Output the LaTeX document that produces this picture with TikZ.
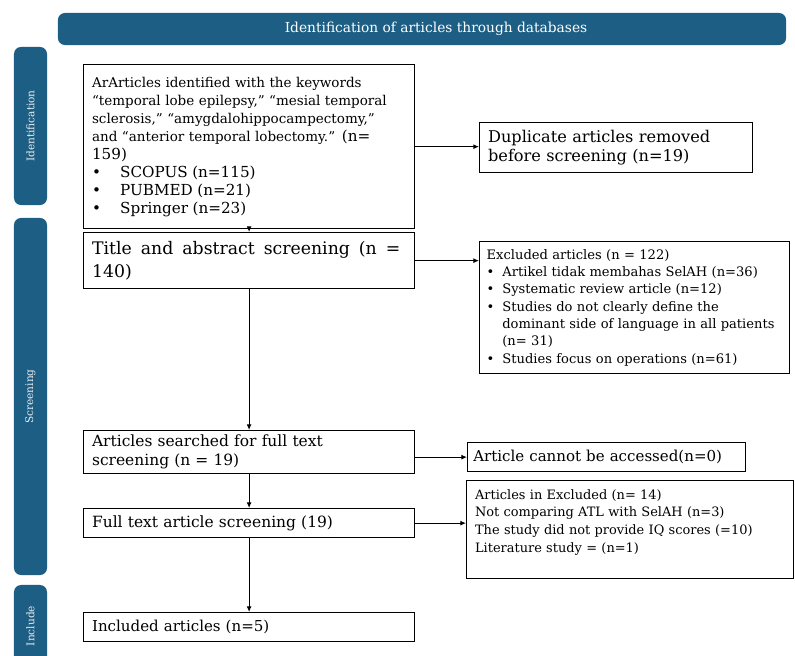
\documentclass[tikz,border=0pt]{standalone}
\usepackage{fontspec}
\setmainfont{DejaVu Serif}
\usetikzlibrary{arrows.meta}

\definecolor{bandblue}{HTML}{1D5E84}
\newcommand{\bul}{\makebox[1.2em][l]{\textbullet}}

\tikzset{
    band/.style={fill=bandblue, rounded corners=5pt, text=white, font=\fontsize{9.8}{12}\selectfont},
    sidebar/.style={fill=bandblue, rounded corners=5pt, rotate=90, minimum height=0.825cm,
        text=white!85!gray, font=\fontsize{7.5}{9}\selectfont},
    stagebox/.style={draw, line width=0.9pt, anchor=north west, align=left, inner xsep=6pt, inner ysep=3pt},
    arr/.style={line width=0.7pt, -{Latex[length=4pt, width=3.5pt]}}
}

\begin{document}
\begin{tikzpicture}[x=0.025cm, y=-0.025cm]
            \useasboundingbox (0, 0) rectangle (795, 656);
            % bands
            \node[band, minimum width=18.2cm, minimum height=0.8cm] (dbband) at (422, 29) {\hspace*{0.7cm}Identification of articles through databases};
            \node[sidebar, minimum width=3.95cm] (idband) at (30.5, 126) {Identification};
            \node[sidebar, minimum width=8.925cm] (scrband) at (30.5, 396.5) {Screening};
            \node[sidebar, minimum width=2.05cm] (incband) at (30.5, 626) {Include};
            % left column
            \node[stagebox, text width=7.85cm, minimum height=4.1cm, font=\fontsize{9.6}{12.8}\selectfont] (ident) at (83, 64) {ArArticles identified with the keywords\\
                “temporal lobe epilepsy,” “mesial temporal\\
                sclerosis,” “amygdalohippocampectomy,”\\
                and “anterior temporal lobectomy.” {\fontsize{10.8}{12.8}\selectfont(n=}\\
                {\fontsize{10.8}{12.8}\selectfont 159)}\\
                {\fontsize{10.8}{12.8}\selectfont\makebox[1.85em][l]{\textbullet}SCOPUS (n=115)}\\
                {\fontsize{10.8}{12.8}\selectfont\makebox[1.85em][l]{\textbullet}PUBMED (n=21)}\\
                {\fontsize{10.8}{12.8}\selectfont\makebox[1.85em][l]{\textbullet}Springer (n=23)}};
            \node[stagebox, text width=7.85cm, minimum height=1.4cm, font=\fontsize{12.3}{16}\selectfont] (title) at (83, 232) {{\spaceskip=0.52em\relax Title and abstract screening (n =}\\ 140)};
            \node[stagebox, text width=7.85cm, minimum height=0.975cm, font=\fontsize{11}{13.5}\selectfont] (search) at (83, 430) {Articles searched for full text\\ screening (n = 19)};
            \node[stagebox, text width=7.85cm, minimum height=0.725cm, font=\fontsize{11}{13}\selectfont] (full) at (83, 508) {Full text article screening (19)};
            \node[stagebox, text width=7.85cm, minimum height=0.725cm, font=\fontsize{10.7}{13}\selectfont] (incl) at (83, 612) {Included articles (n=5)};
            % right column
            \node[stagebox, text width=6.4cm, minimum height=1.25cm, font=\fontsize{11.5}{14}\selectfont] (dup) at (479, 122) {Duplicate articles removed\\ before screening (n=19)};
            \node[stagebox, text width=7.4cm, minimum height=3.3cm, inner xsep=5pt, font=\fontsize{9.3}{12.3}\selectfont] (excla) at (479, 241) {Excluded articles (n = 122)\\
                \bul Artikel tidak membahas SelAH (n=36)\\
                \bul Systematic review article (n=12)\\
                \bul Studies do not clearly define the\\
                \hspace*{1.2em}dominant side of language in all patients\\
                \hspace*{1.2em}(n= 31)\\
                \bul Studies focus on operations (n=61)};
            \node[stagebox, text width=6.66cm, inner xsep=4pt, minimum height=0.725cm, font=\fontsize{10.7}{13}\selectfont] (cannot) at (467, 442) {Article cannot be accessed(n=0)};
            \node[stagebox, text width=7.75cm, minimum height=2.45cm, font=\fontsize{9.2}{12.6}\selectfont] (exclb) at (466, 480) {Articles in Excluded (n= 14)\\
                Not comparing ATL with SelAH (n=3)\\
                The study did not provide IQ scores (=10)\\
                Literature study = (n=1)\\ \mbox{}};
            % connectors
            \draw[arr] (ident.south) -- (title.north);
            \draw[arr] (title.south) -- (search.north);
            \draw[arr] (search.south) -- (full.north);
            \draw[arr] (full.south) -- (incl.north);
            \draw[arr] (ident.east) -- (ident.east -| dup.west);
            \draw[arr] (title.east) -- (title.east -| excla.west);
            \draw[arr] (search.east |- cannot.west) -- (cannot.west);
            \draw[arr] (full.east) -- (full.east -| exclb.west);
        \end{tikzpicture}
\end{document}
